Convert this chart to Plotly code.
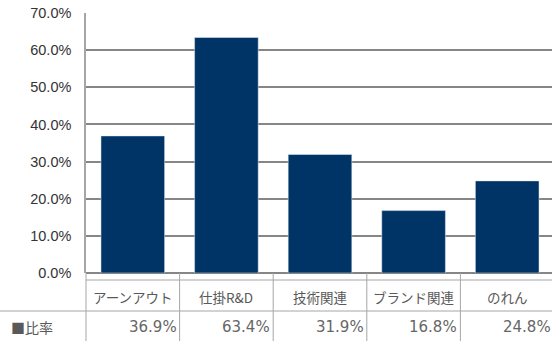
import plotly.graph_objects as go

categories = ["アーンアウト", "仕掛R&D", "技術関連", "ブランド関連", "のれん"]
values = [36.9, 63.4, 31.9, 16.8, 24.8]
series_name = "比率"
y_ticks = [0, 10, 20, 30, 40, 50, 60, 70]

W, H = 552, 341
ML, MR, MT, MB = 86, 0, 13, 68
plot_h = H - MT - MB
plot_w = W - ML - MR
cat_w = 93.6
x_span = plot_w / cat_w

def py(pix):
    return (H - MB - pix) / plot_h

def px(xdata):
    return (xdata + 0.5) / x_span

bar_color = "#003366"
grid_color = "#868686"
table_color = "#A6A6A6"
text_gray = "#595959"
jp_font = "Noto Sans CJK JP"

fig = go.Figure()
fig.add_trace(go.Bar(x=list(range(len(categories))), y=values, marker_color=bar_color,
                     width=0.68, name=series_name, showlegend=False))

shapes = []
y_row1_top = py(280)
y_row2_top = py(311)
y_bottom = py(341)
n = len(categories)
for i in range(n + 1):
    shapes.append(dict(type="line", xref="paper", yref="paper", x0=px(i - 0.5), x1=px(i - 0.5),
                       y0=0, y1=y_bottom, line=dict(color=table_color, width=1)))
shapes.append(dict(type="line", xref="paper", yref="paper", x0=0, x1=1,
                   y0=y_row1_top, y1=y_row1_top, line=dict(color=table_color, width=1)))
shapes.append(dict(type="line", xref="paper", yref="paper", x0=-ML / plot_w, x1=1,
                   y0=y_row2_top, y1=y_row2_top, line=dict(color=table_color, width=1)))

annotations = []
for i, (c, v) in enumerate(zip(categories, values)):
    annotations.append(dict(x=px(i), y=py(297), xref="paper", yref="paper", text=c, showarrow=False,
                            xanchor="center", yanchor="middle",
                            font=dict(family=jp_font, size=13.5, color=text_gray)))
    annotations.append(dict(x=px(i + 0.5), y=py(327), xref="paper", yref="paper", text=f"{v:.1f}%",
                            showarrow=False, xanchor="right", yanchor="middle", xshift=-1,
                            font=dict(family="DejaVu Sans", size=15, color="#666666")))
annotations.append(dict(x=-ML / plot_w, y=py(327), xref="paper", yref="paper",
                        text="■" + series_name, showarrow=False, xanchor="left", yanchor="middle",
                        xshift=9, font=dict(family=jp_font, size=14, color=text_gray)))

fig.update_layout(
    width=W, height=H, margin=dict(l=ML, r=MR, t=MT, b=MB),
    plot_bgcolor="white", paper_bgcolor="white",
    shapes=shapes, annotations=annotations,
    xaxis=dict(range=[-0.5, -0.5 + x_span], showticklabels=False, showgrid=False,
               zeroline=False, showline=False, ticks=""),
    yaxis=dict(range=[0, 70], tickvals=y_ticks, ticktext=[f"{t:.1f}%" for t in y_ticks],
               showgrid=True, gridcolor=grid_color, gridwidth=2, zeroline=True,
               zerolinecolor=grid_color, zerolinewidth=2,
               showline=True, linecolor=table_color, linewidth=1.5, ticks="", ticklabelstandoff=10,
               tickfont=dict(family="Liberation Sans", size=14.5, color="#333333")),
)
fig.write_html("out.html")
